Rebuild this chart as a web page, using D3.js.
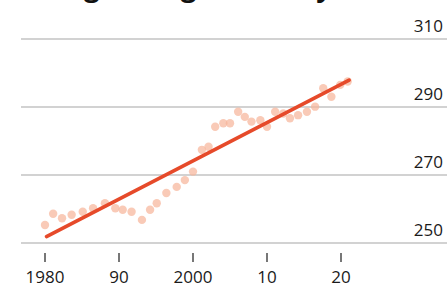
<!DOCTYPE html>
<html>
<head>
<meta charset="utf-8">
<script src="https://cdn.jsdelivr.net/npm/d3@7"></script>
<style>
  html, body { margin: 0; padding: 0; background: #fff; overflow: hidden; }
  svg { display: block; font-family: "Open Sans", "Noto Sans", sans-serif; }
</style>
</head>
<body>
<div id="chart"></div>
<script>
const years = [1980, 1981.1, 1982.3, 1983.6, 1985.1, 1986.5, 1988.1, 1989.5, 1990.5, 1991.7,
  1993.1, 1994.2, 1995.1, 1996.4, 1997.8, 1998.9, 2000, 2001.2, 2002.1, 2003,
  2004.1, 2005, 2006.1, 2007, 2007.9, 2009.1, 2010, 2011.1, 2012.2, 2013.1,
  2014.2, 2015.4, 2016.5, 2017.6, 2018.7, 2019.9, 2020.9];
const values = [255.3, 258.6, 257.3, 258.3, 259.2, 260.2, 261.7, 260.2, 259.8, 259.2,
  256.8, 259.8, 261.7, 264.7, 266.5, 268.5, 271.0, 277.4, 278.3, 284.2,
  285.2, 285.2, 288.6, 287.1, 285.7, 286.1, 284.2, 288.6, 288.1, 286.7,
  287.6, 288.6, 290.1, 295.5, 293.0, 296.5, 297.5];
// trend line end points
const trendYears = [1980.2, 2021.1];
const trendValues = [251.9, 297.9];

const yTicks = [250, 270, 290, 310];
const xTicks = [1980, 1990, 2000, 2010, 2020];
const xTickLabels = ['1980', '90', '2000', '10', '20'];
const title = 'Total growing season, yr';

const width = 447, height = 287;

const svg = d3.select('#chart').append('svg')
  .attr('width', width)
  .attr('height', height);

const x = d3.scaleLinear().domain([1980, 2020]).range([45, 341]);
const y = d3.scaleLinear().domain([250, 310]).range([243, 39]);

// title, mostly cropped off the top (only descenders show)
const t = svg.append('text')
  .attr('y', -4)
  .attr('font-size', 28)
  .attr('font-weight', 700)
  .attr('fill', '#111')
  .text(title);
const gIdx = title.indexOf('growing');
const shift = 84 - t.node().getStartPositionOfChar(gIdx).x;
t.attr('x', shift);

// gridlines
svg.append('g').selectAll('line')
  .data(yTicks)
  .join('line')
  .attr('x1', 21)
  .attr('x2', width)
  .attr('y1', d => y(d))
  .attr('y2', d => y(d))
  .attr('stroke', '#d2d2d2')
  .attr('stroke-width', 2);

svg.append('g').selectAll('text')
  .data(yTicks)
  .join('text')
  .attr('x', 443)
  .attr('y', d => y(d) - 7)
  .attr('text-anchor', 'end')
  .attr('font-size', 17)
  .attr('fill', '#1a1a1a')
  .text(d => d);

// x axis ticks
const xAxis = svg.append('g');
xAxis.selectAll('line')
  .data(xTicks)
  .join('line')
  .attr('x1', d => x(d))
  .attr('x2', d => x(d))
  .attr('y1', 253)
  .attr('y2', 262)
  .attr('stroke', '#777')
  .attr('stroke-width', 2);

xAxis.selectAll('text')
  .data(xTicks)
  .join('text')
  .attr('x', d => x(d))
  .attr('y', 283)
  .attr('text-anchor', 'middle')
  .attr('font-size', 17)
  .attr('fill', '#1a1a1a')
  .text((d, i) => xTickLabels[i]);

// dots
svg.append('g').selectAll('circle')
  .data(years.map((yr, i) => [yr, values[i]]))
  .join('circle')
  .attr('cx', d => x(d[0]))
  .attr('cy', d => y(d[1]))
  .attr('r', 4.2)
  .attr('fill', '#f6b399')
  .attr('fill-opacity', 0.7);

// trend line
svg.append('path')
  .datum(trendYears.map((yr, i) => [yr, trendValues[i]]))
  .attr('d', d3.line().x(d => x(d[0])).y(d => y(d[1])))
  .attr('fill', 'none')
  .attr('stroke', '#e64a2a')
  .attr('stroke-width', 3.6)
  .attr('stroke-linecap', 'round');
</script>
</body>
</html>
